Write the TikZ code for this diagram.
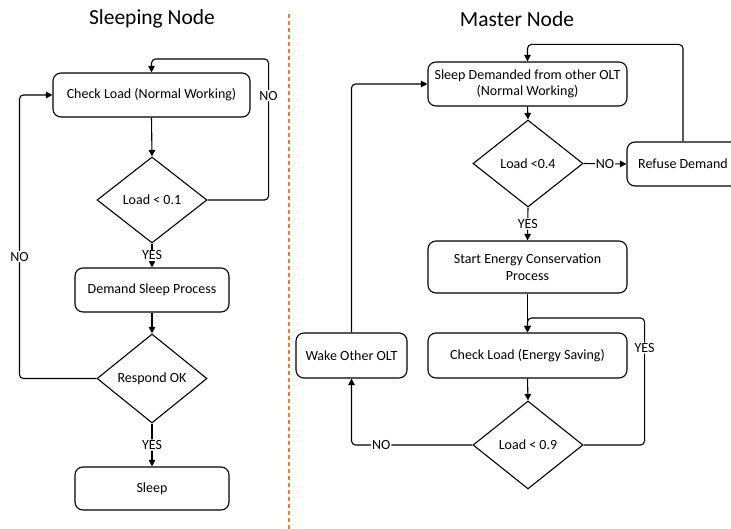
\documentclass[tikz,border=0pt]{standalone}
\usepackage{fontspec}
\setmainfont{Carlito}
\usetikzlibrary{shapes.geometric,arrows.meta}
\definecolor{divorange}{HTML}{ED7D31}
\tikzset{
  bodyfont/.style={font=\fontsize{14}{16.5}\selectfont},
  box/.style={draw, rounded corners=8pt, line width=1.1pt, align=center, inner sep=0pt, bodyfont},
  dec/.style={draw, diamond, line width=1.1pt, inner sep=0pt, bodyfont},
  arr/.style={-{Triangle[length=6.5pt,width=6.5pt]}, line width=1.1pt, rounded corners=4pt},
  lbl/.style={fill=white, inner sep=1pt, bodyfont},
  ttl/.style={font=\fontsize{21.5}{24}\selectfont},
}
\begin{document}
\begin{tikzpicture}[x=1pt,y=-1pt]
\useasboundingbox (0,0) rectangle (731,529);
% titles
\node[ttl] (t1) at (152,19) {Sleeping Node};
\node[ttl] (t2) at (517,19) {Master Node};
% divider
\coordinate (dvtop) at (288.5,14);
\coordinate (dvbot) at (288.5,529);
\draw[divorange, line width=2pt, dash pattern=on 4pt off 3pt] (dvtop) -- (dvbot);
% left nodes
\node[box, minimum width=197pt, minimum height=44pt] (cl1) at (151.5,95) {Check Load (Normal Working)};
\node[dec, minimum width=110pt, minimum height=86pt] (d1) at (152,200) {Load < 0.1};
\node[box, minimum width=154pt, minimum height=44pt] (ds) at (152,290) {Demand Sleep Process};
\node[dec, minimum width=110pt, minimum height=89pt] (d2) at (152,378.5) {Respond OK};
\node[box, minimum width=154pt, minimum height=43pt] (sl) at (152,488.5) {Sleep};
% left connectors
\draw[arr] (cl1.south) -- (d1.north);
\draw[arr] (d1.south) -- node[lbl]{YES} (ds.north);
\draw[arr] (ds.south) -- (d2.north);
\draw[arr] (d2.south) -- node[lbl]{YES} (sl.north);
\draw[arr] (d1.east) -- ++(61,0) -- node[lbl,pos=0.74]{NO} ++(0,-141) -| (cl1.north);
\draw[arr] (d2.west) -- ++(-77,0) -- node[lbl,pos=0.43]{NO} ++(0,-283.5) -- (cl1.west);
% right nodes
\node[box, minimum width=199pt, minimum height=44pt] (sd) at (527.5,84) {Sleep Demanded from other OLT\\(Normal Working)};
\node[dec, minimum width=110pt, minimum height=87pt] (d3) at (528,163.5) {Load <0.4};
\node[box, minimum width=112pt, minimum height=44pt] (rf) at (683,164) {Refuse Demand};
\node[box, minimum width=199pt, minimum height=52pt] (se) at (527.5,267) {Start Energy Conservation\\Process};
\node[box, minimum width=199pt, minimum height=45pt] (ce) at (527.5,355.5) {Check Load (Energy Saving)};
\node[box, minimum width=111pt, minimum height=45pt] (wk) at (351.5,355.5) {Wake Other OLT};
\node[dec, minimum width=110pt, minimum height=88pt] (d4) at (528,445) {Load < 0.9};
% right connectors
\draw[arr] (sd.south) -- (d3.north);
\draw[arr] (d3.east) -- node[lbl]{NO} (rf.west);
\draw[arr] (d3.south) -- node[lbl]{YES} (se.north);
\draw[arr] (rf.north) -- ++(0,-97) -| (sd.north);
\draw[arr] (se.south) -- (ce.north);
\draw[arr] (ce.south) -- (d4.north);
\draw[arr] (d4.east) -- ++(61,0) -- node[lbl,pos=0.764]{YES} ++(0,-127) -| (ce.north);
\draw[arr] (d4.west) -| node[lbl,pos=0.377]{NO} (wk.south);
\draw[arr] (wk.north) |- (sd.west);
\end{tikzpicture}
\end{document}
